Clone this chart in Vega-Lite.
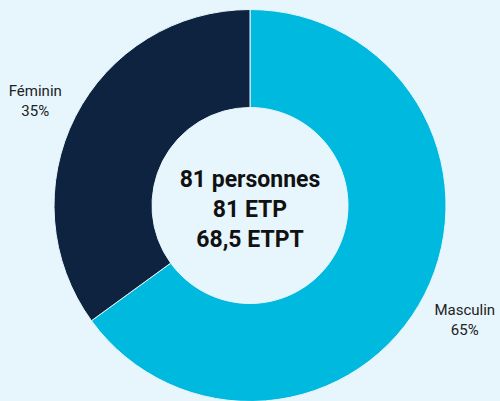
{
  "$schema": "https://vega.github.io/schema/vega-lite/v6.json",
  "width": 500,
  "height": 401,
  "autosize": {"type": "fit", "contains": "padding"},
  "padding": {"top": 10, "bottom": 0, "left": 0, "right": 0},
  "background": "#e6f6fc",
  "config": {"view": {"stroke": null}, "font": "Roboto"},
  "data": {"values": [
    {"sexe": "Masculin", "pct": 65, "label": "Masculin\n65%"},
    {"sexe": "Féminin", "pct": 35, "label": "Féminin\n35%"}
  ]},
  "encoding": {
    "theta": {"field": "pct", "type": "quantitative", "stack": true},
    "order": {"field": "sexe", "sort": "descending"}
  },
  "layer": [
    {
      "mark": {"type": "arc", "outerRadius": 196, "innerRadius": 98, "stroke": "#e6f6fc", "strokeWidth": 1},
      "encoding": {
        "color": {"field": "sexe", "type": "nominal", "legend": null,
          "scale": {"domain": ["Masculin", "Féminin"], "range": ["#00b9df", "#0e2340"]}}
      }
    },
    {
      "mark": {"type": "text", "radius": 241, "fontSize": 15, "lineBreak": "\n", "lineHeight": 20, "dy": -5, "color": "#222222", "align": "center", "baseline": "middle"},
      "encoding": {"text": {"field": "label"}}
    },
    {
      "data": {"values": [{"t": "81 personnes\n81 ETP\n68,5 ETPT"}]},
      "mark": {"type": "text", "fontSize": 23, "fontWeight": "bold", "lineBreak": "\n", "lineHeight": 30, "dy": -26, "color": "#111111", "align": "center", "baseline": "middle"},
      "encoding": {"text": {"field": "t"}, "theta": null, "order": null}
    }
  ]
}
